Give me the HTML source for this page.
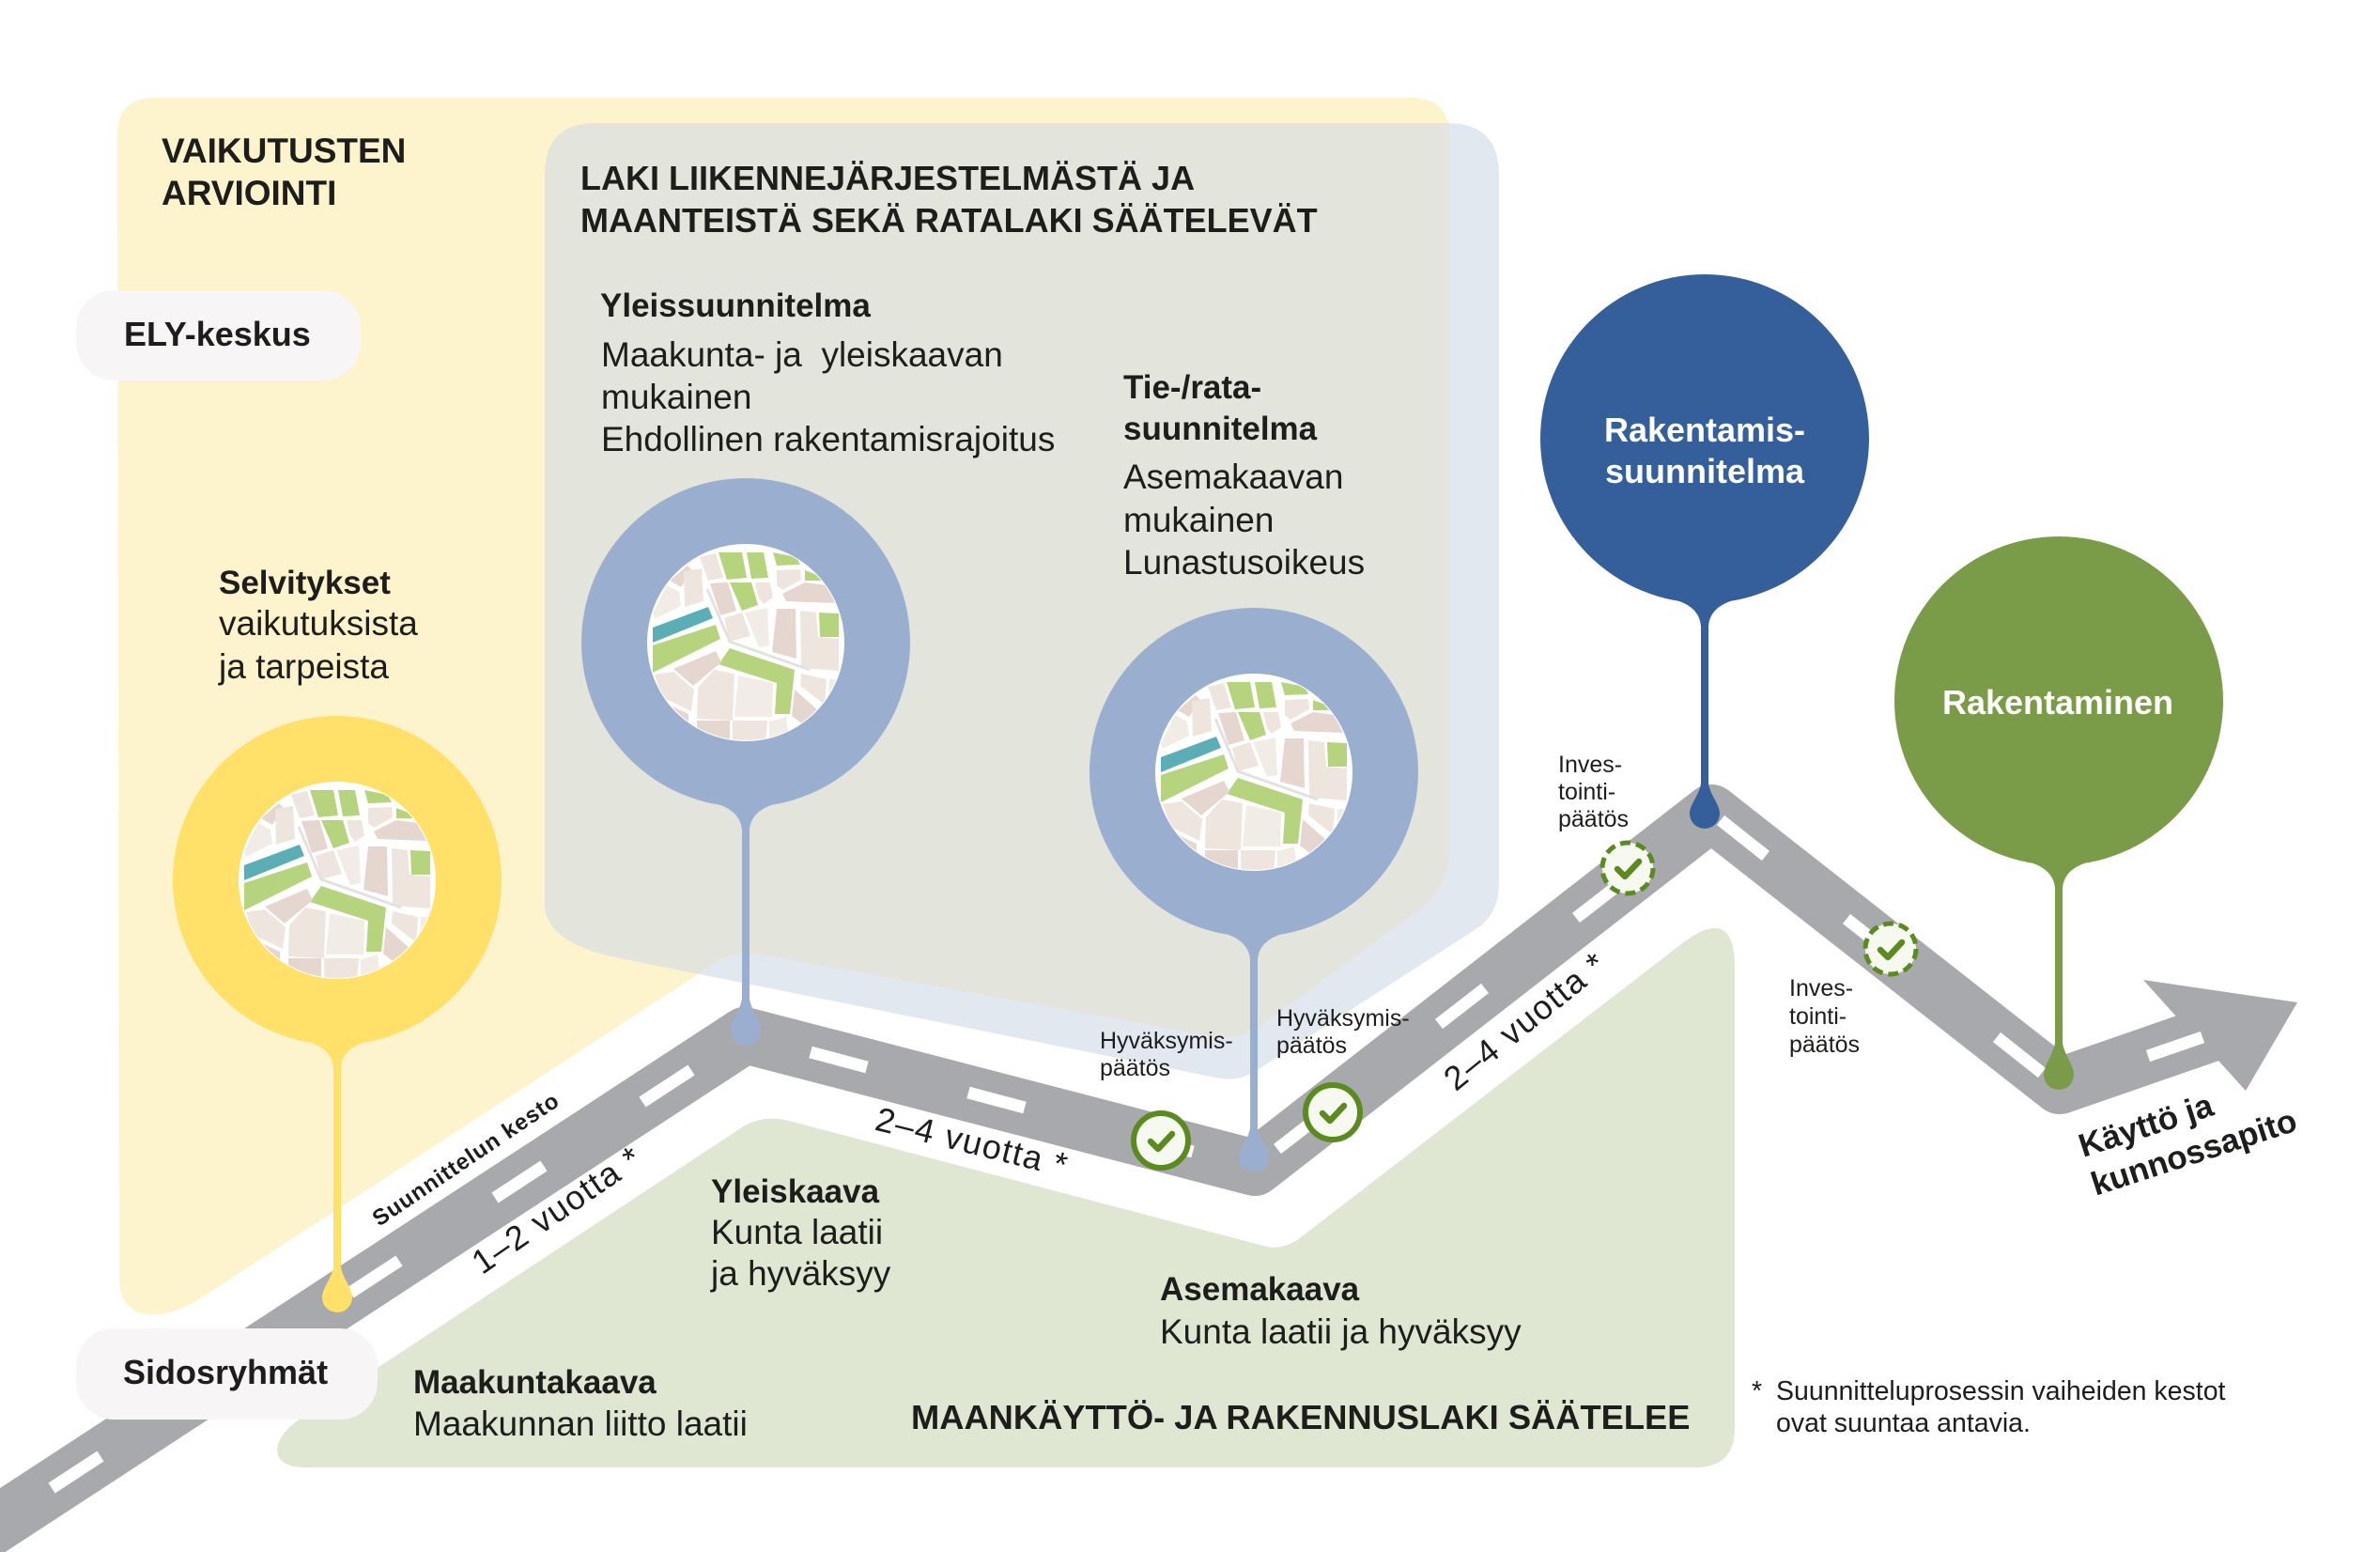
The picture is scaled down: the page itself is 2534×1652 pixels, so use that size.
<!DOCTYPE html>
<html>
<head>
<meta charset="utf-8">
<style>
html,body{margin:0;padding:0;background:#fff;}
svg{display:block;}
text{font-family:"Liberation Sans",Arial,sans-serif;fill:#1d1d1b;}
.b{font-weight:bold;}
</style>
</head>
<body>
<svg width="2534" height="1652" viewBox="0 0 2534 1652" xmlns="http://www.w3.org/2000/svg">
<defs>
  <clipPath id="yclip">
    <path d="M125,144 Q125,104 165,104 L1503,104 Q1543,104 1543,144 L1543,905 Q1543,945 1510,969 L1345,1090 Q1320,1108 1290,1103 L810,1016 Q783,1011 760,1026 L215,1381 C175,1407 127,1410 127,1360 Z"/>
  </clipPath>
  <clipPath id="mc"><circle cx="0" cy="0" r="104"/></clipPath>
  <g id="map">
    <circle r="105" fill="#ffffff"/>
    <g clip-path="url(#mc)">
      <polygon fill="#EEE5DE" points="-49,-91 -32,-95 -24,-69 -40,-66"/>
      <polygon fill="#B5D47D" points="-29,-96 -4,-96 1,-69 -20,-67"/>
      <polygon fill="#B5D47D" points="1,-96 19,-96 24,-69 6,-68"/>
      <polygon fill="#B5D47D" points="29,-96 54,-91 58,-83 33,-82"/>
      <polygon fill="#EEE5DE" points="33,-77 58,-78 59,-67 39,-56 33,-61"/>
      <polygon fill="#B5D47D" points="63,-77 76,-72 81,-66 63,-66"/>
      <polygon fill="#E6D6D0" points="39,-52 63,-64 86,-61 95,-42 43,-44"/>
      <polygon fill="#E6D6D0" points="-81,-66 -62,-82 -57,-77 -69,-59"/>
      <polygon fill="#EEE5DE" points="-66,-76 -47,-79 -45,-44 -65,-38"/>
      <polygon fill="#F2ECE7" points="-99,-31 -84,-61 -71,-54 -69,-39 -97,-25"/>
      <polygon fill="#E6D6D0" points="-38,-63 -19,-64 -10,-34 -27,-29"/>
      <polygon fill="#B5D47D" points="-17,-64 6,-64 13,-40 -4,-34"/>
      <polygon fill="#EEE5DE" points="10,-64 26,-64 29,-48 19,-41 14,-47"/>
      <polygon fill="#5BAEB5" points="-99,-16 -40,-38 -35,-26 -99,0"/>
      <polygon fill="#B5D47D" points="-99,3 -32,-19 -27,-4 -99,32"/>
      <polygon fill="#EEE5DE" points="-23,-26 -4,-32 5,-7 -17,-1"/>
      <polygon fill="#F2ECE7" points="-1,-32 23,-37 25,3 14,5"/>
      <polygon fill="#E6D6D0" points="33,-36 53,-36 54,17 28,10"/>
      <polygon fill="#EEE5DE" points="58,-34 75,-32 77,-6 99,-4 99,30 59,27"/>
      <polygon fill="#B5D47D" points="78,-32 99,-31 99,-6 79,-6"/>
      <polygon fill="#B5D47D" points="-29,23 -17,6 52,29 47,76 31,76 33,43"/>
      <polygon fill="#E6D6D0" points="-77,28 -32,9 -26,21 -56,46"/>
      <polygon fill="#EEE5DE" points="-51,48 -34,29 -12,33 -14,83 -52,81"/>
      <polygon fill="#F2ECE7" points="-8,35 29,43 28,79 -12,79"/>
      <polygon fill="#EEE5DE" points="-97,34 -77,31 -55,50 -58,73 -89,58"/>
      <polygon fill="#E6D6D0" points="-89,63 -61,76 -61,99 -77,93"/>
      <polygon fill="#E6D6D0" points="-52,83 -17,83 -17,106 -52,103"/>
      <polygon fill="#EEE5DE" points="-14,83 23,83 21,108 -14,108"/>
      <polygon fill="#F2ECE7" points="25,84 43,79 46,103 25,108"/>
      <polygon fill="#E6D6D0" points="52,50 78,73 63,89 49,78"/>
      <polygon fill="#EEE5DE" points="59,33 86,39 84,66 58,46"/>
      <polygon fill="#F2ECE7" points="89,39 99,39 99,59 88,66"/>
      <polyline fill="none" stroke="#E2E2E2" stroke-width="3" points="-41,-57 -17,-1 68,29"/>
    </g>
  </g>
</defs>

<!-- Yellow panel -->
<path fill="#FDF3CC" d="M125,144 Q125,104 165,104 L1503,104 Q1543,104 1543,144 L1543,905 Q1543,945 1510,969 L1345,1090 Q1320,1108 1290,1103 L810,1016 Q783,1011 760,1026 L215,1381 C175,1407 127,1410 127,1360 Z"/>

<!-- Blue translucent panel -->
<path fill="#E1E8F0" d="M580,186 Q580,131 635,131 L1541,131 Q1596,131 1596,186 L1596,940 Q1596,974 1570,990 L1340,1138 Q1318,1153 1294,1147 L660,1020 Q580,1004 580,962 Z"/>
<g clip-path="url(#yclip)">
  <path fill="#E3E4DB" d="M580,186 Q580,131 635,131 L1541,131 Q1596,131 1596,186 L1596,940 Q1596,974 1570,990 L1340,1138 Q1318,1153 1294,1147 L660,1020 Q580,1004 580,962 Z"/>
</g>

<!-- Green panel -->
<path fill="#DFE6D1" d="M335,1562 L1805,1562 Q1847,1562 1847,1520 L1847,1030 Q1847,961 1790,1005 L1385,1317 Q1366,1332 1345,1326 L840,1193 Q812,1186 790,1200 L320,1510 C295,1527 290,1545 300,1555 C308,1562 320,1562 335,1562 Z"/>

<!-- Road -->
<polyline fill="none" stroke="#A8A9AC" stroke-width="60" stroke-linejoin="round" stroke-linecap="butt"
  points="-60,1659 793,1102 1336,1243 1822,865 2193,1156 2372,1094"/>
<polygon fill="#A8A9AC" points="2317,1082 2282,1043 2446,1067 2391,1161 2362,1129"/>

<!-- Dashes -->
<g stroke="#ffffff" stroke-width="13" stroke-linecap="butt">
  <line x1="55" y1="1584" x2="107" y2="1550"/>
  <line x1="214" y1="1480" x2="266" y2="1446"/>
  <line x1="373" y1="1376" x2="425" y2="1342"/>
  <line x1="527" y1="1275" x2="579" y2="1241"/>
  <line x1="684" y1="1173" x2="736" y2="1139"/>
  <line x1="863" y1="1120" x2="923" y2="1136"/>
  <line x1="1031" y1="1163" x2="1091" y2="1179"/>
  <line x1="1210" y1="1210" x2="1270" y2="1226"/>
  <line x1="1360" y1="1223" x2="1409" y2="1185"/>
  <line x1="1532" y1="1090" x2="1581" y2="1052"/>
  <line x1="1678" y1="977" x2="1727" y2="939"/>
  <line x1="1832" y1="873" x2="1880" y2="911"/>
  <line x1="1966" y1="978" x2="2014" y2="1016"/>
  <line x1="2126" y1="1104" x2="2174" y2="1142"/>
  <line x1="2287" y1="1124" x2="2345" y2="1104"/>
</g>

<!-- Pills -->
<rect x="81" y="309" width="303" height="96" rx="40" fill="#F7F5F5"/>
<rect x="81" y="1414" width="321" height="97" rx="40" fill="#F7F5F5"/>

<!-- Pins -->
<g fill="#FFE16A">
  <circle cx="359" cy="937" r="175"/>
  <path d="M311,1105 C339,1109 354,1119 355,1137 L363,1137 C364,1119 379,1109 407,1105 Z"/>
  <rect x="355" y="1130" width="8" height="225"/>
  <path d="M355,1349 L363,1349 C365,1361 375,1371 375,1381 A16,16 0 0 1 343,1381 C343,1371 353,1361 355,1349 Z"/>
</g>
<use href="#map" transform="translate(359,937)"/>

<g fill="#9AAFCF">
  <circle cx="794" cy="684" r="175"/>
  <path d="M746,852 C774,856 789,866 790,884 L798,884 C799,866 814,856 842,852 Z"/>
  <rect x="790" y="878" width="8" height="190"/>
  <path d="M790,1063 L798,1063 C800,1076 810,1087 810,1097 A16,16 0 0 1 778,1097 C778,1087 788,1076 790,1063 Z"/>
</g>
<use href="#map" transform="translate(794,684)"/>

<g fill="#9AAFCF">
  <circle cx="1335" cy="822" r="175"/>
  <path d="M1287,990 C1315,994 1330,1004 1331,1022 L1339,1022 C1340,1004 1355,994 1383,990 Z"/>
  <rect x="1331" y="1016" width="8" height="190"/>
  <path d="M1331,1201 L1339,1201 C1341,1213 1351,1222 1351,1232 A16,16 0 0 1 1319,1232 C1319,1222 1329,1213 1331,1201 Z"/>
</g>
<use href="#map" transform="translate(1335,822)"/>

<g fill="#345F9B">
  <circle cx="1815" cy="467" r="175"/>
  <path d="M1767,635 C1795,639 1810,649 1811,667 L1819,667 C1820,649 1835,639 1863,635 Z"/>
  <rect x="1811" y="660" width="8" height="180"/>
  <path d="M1811,834 L1819,834 C1821,847 1831,856 1831,866 A16,16 0 0 1 1799,866 C1799,856 1809,847 1811,834 Z"/>
</g>

<g fill="#7A9B47">
  <circle cx="2192" cy="746" r="175"/>
  <path d="M2144,914 C2172,918 2187,928 2188,946 L2196,946 C2197,928 2212,918 2240,914 Z"/>
  <rect x="2188" y="940" width="8" height="175"/>
  <path d="M2188,1110 L2196,1110 C2198,1123 2208,1134 2208,1144 A16,16 0 0 1 2176,1144 C2176,1134 2186,1123 2188,1110 Z"/>
</g>

<!-- Check marks -->
<g stroke="#5B8A1F" fill="#F5F9EF">
  <g transform="translate(1236,1214)">
    <circle r="29" stroke-width="6"/>
    <path d="M-11,1 L-3,9 L12,-7" fill="none" stroke-width="6.5" stroke-linecap="round" stroke-linejoin="round"/>
  </g>
  <g transform="translate(1419,1184)">
    <circle r="29" stroke-width="6"/>
    <path d="M-11,1 L-3,9 L12,-7" fill="none" stroke-width="6.5" stroke-linecap="round" stroke-linejoin="round"/>
  </g>
  <g transform="translate(1733,924)">
    <circle r="27" stroke-width="5" stroke-dasharray="11 6"/>
    <path d="M-11,1 L-3,9 L12,-7" fill="none" stroke-width="6.5" stroke-linecap="round" stroke-linejoin="round"/>
  </g>
  <g transform="translate(2013,1010)">
    <circle r="27" stroke-width="5" stroke-dasharray="11 6"/>
    <path d="M-11,1 L-3,9 L12,-7" fill="none" stroke-width="6.5" stroke-linecap="round" stroke-linejoin="round"/>
  </g>
</g>

<!-- Texts -->
<text class="b" x="172" y="173" font-size="37">VAIKUTUSTEN</text>
<text class="b" x="172" y="218" font-size="37">ARVIOINTI</text>

<text class="b" x="618" y="202" font-size="36">LAKI LIIKENNEJÄRJESTELMÄSTÄ JA</text>
<text class="b" x="618" y="247" font-size="36">MAANTEISTÄ SEKÄ RATALAKI SÄÄTELEVÄT</text>

<text class="b" x="132" y="368" font-size="36">ELY-keskus</text>

<text class="b" x="639" y="337" font-size="35">Yleissuunnitelma</text>
<text x="640" y="390" font-size="37" style="white-space:pre">Maakunta- ja  yleiskaavan</text>
<text x="640" y="435" font-size="37">mukainen</text>
<text x="640" y="480" font-size="37">Ehdollinen rakentamisrajoitus</text>

<text class="b" x="1196" y="424" font-size="35">Tie-/rata-</text>
<text class="b" x="1196" y="468" font-size="35">suunnitelma</text>
<text x="1196" y="520" font-size="37">Asemakaavan</text>
<text x="1196" y="566" font-size="37">mukainen</text>
<text x="1196" y="611" font-size="37">Lunastusoikeus</text>

<text class="b" x="233" y="632" font-size="35">Selvitykset</text>
<text x="233" y="676" font-size="37">vaikutuksista</text>
<text x="233" y="722" font-size="37">ja tarpeista</text>

<text class="b" x="1815" y="470" font-size="36" text-anchor="middle" style="fill:#ffffff">Rakentamis-</text>
<text class="b" x="1815" y="514" font-size="36" text-anchor="middle" style="fill:#ffffff">suunnitelma</text>
<text class="b" x="2191" y="760" font-size="36" text-anchor="middle" style="fill:#ffffff">Rakentaminen</text>

<text class="b" x="131" y="1473" font-size="36">Sidosryhmät</text>

<text class="b" x="440" y="1483" font-size="35">Maakuntakaava</text>
<text x="440" y="1528" font-size="37">Maakunnan liitto laatii</text>

<text class="b" x="757" y="1280" font-size="35">Yleiskaava</text>
<text x="757" y="1324" font-size="37">Kunta laatii</text>
<text x="757" y="1368" font-size="37">ja hyväksyy</text>

<text class="b" x="1235" y="1384" font-size="35">Asemakaava</text>
<text x="1235" y="1430" font-size="37">Kunta laatii ja hyväksyy</text>

<text class="b" x="970" y="1521" font-size="36.3">MAANKÄYTTÖ- JA RAKENNUSLAKI SÄÄTELEE</text>

<text x="1865" y="1490" font-size="28.5">*</text>
<text x="1891" y="1490" font-size="28.5">Suunnitteluprosessin vaiheiden kestot</text>
<text x="1891" y="1524" font-size="28.5">ovat suuntaa antavia.</text>

<text x="1171" y="1116" font-size="25">Hyväksymis-</text>
<text x="1171" y="1145" font-size="25">päätös</text>
<text x="1359" y="1092" font-size="25">Hyväksymis-</text>
<text x="1359" y="1121" font-size="25">päätös</text>

<text x="1659" y="822" font-size="25">Inves-</text>
<text x="1659" y="851" font-size="25">tointi-</text>
<text x="1659" y="880" font-size="25">päätös</text>
<text x="1905" y="1060" font-size="25">Inves-</text>
<text x="1905" y="1090" font-size="25">tointi-</text>
<text x="1905" y="1120" font-size="25">päätös</text>

<!-- Rotated road labels -->
<g transform="translate(496,1234) rotate(-34)">
  <text class="b" x="0" y="8" font-size="24" text-anchor="middle" letter-spacing="1">Suunnittelun kesto</text>
</g>
<g transform="translate(593,1288) rotate(-34.5)">
  <text x="0" y="12" font-size="36" text-anchor="middle" letter-spacing="1.5">1–2 vuotta *</text>
</g>
<g transform="translate(1035,1216) rotate(14)">
  <text x="0" y="12" font-size="36" text-anchor="middle" letter-spacing="1.5">2–4 vuotta *</text>
</g>
<g transform="translate(1624,1087) rotate(-39)">
  <text x="0" y="12" font-size="36" text-anchor="middle" letter-spacing="1.5">2–4 vuotta *</text>
</g>
<g transform="translate(2218,1232) rotate(-18)">
  <text class="b" x="0" y="0" font-size="35">Käyttö ja</text>
  <text class="b" x="0" y="43" font-size="35">kunnossapito</text>
</g>
</svg>
</body>
</html>
